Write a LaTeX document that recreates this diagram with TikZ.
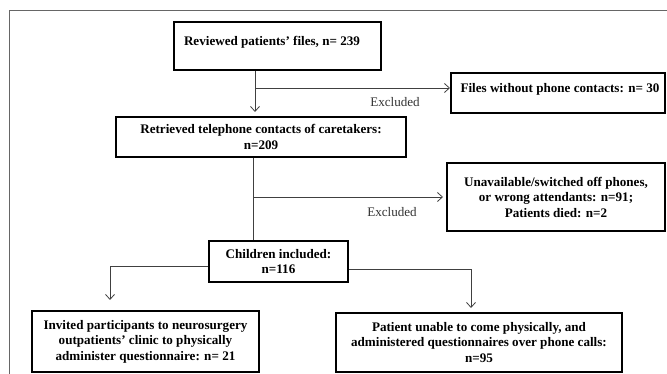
\documentclass[tikz,border=0pt]{standalone}
\usepackage{fontspec}
\setmainfont{Liberation Serif}
\usetikzlibrary{arrows.meta}
\begin{document}
\begin{tikzpicture}[x=1pt,y=-1pt,
  boxfont/.style={font=\fontsize{13.1}{15.5}\selectfont\bfseries},
  box/.style={draw=black,line width=1.8pt,rectangle,inner sep=0pt,align=center,boxfont},
  conn/.style={draw=black!75,line width=0.8pt},
  tip/.style={conn,-{Straight Barb[length=5pt,width=9pt,line width=0.8pt]}},
  lbl/.style={font=\fontsize{13.1}{15}\selectfont,text=black!80,inner sep=0pt}]
\useasboundingbox (0,0) rectangle (667,374);
\draw[black!60,line width=1pt] (9.5,10.5) rectangle (700,400);
% boxes
\node[box,minimum width=207pt,minimum height=48pt] (b1) at (277.5,46) {};
\node[inner sep=0pt,boxfont] (t1) at (272,42) {Reviewed patients’ files, n= 239};
\node[box,minimum width=290pt,minimum height=40pt] (b2) at (261,137) {Retrieved telephone contacts of caretakers:\\n=209};
\node[box,minimum width=214pt,minimum height=40pt] (f) at (558,93) {};
\node[inner sep=0pt,boxfont] (tf) at (560,89.5) {Files without phone contacts: n= 30};
\node[box,minimum width=218pt,minimum height=68pt] (u) at (556,197) {Unavailable/switched off phones,\\or wrong attendants: n=91;\\Patients died: n=2};
\node[box,minimum width=139pt,minimum height=41pt] (b3) at (278.5,261.5) {Children included:\\n=116};
\node[box,minimum width=227pt,minimum height=61pt] (l) at (145.5,341.5) {Invited participants to neurosurgery\\outpatients’ clinic to physically\\administer questionnaire: n= 21};
\node[box,minimum width=286pt,minimum height=59pt] (r) at (479,342.5) {Patient unable to come physically, and\\administered questionnaires over phone calls:\\n=95};
% connectors
\coordinate (a1) at (255,112);
\coordinate (j1) at (255,88);
\coordinate (e1) at (450,88);
\draw[tip] (b1.south -| a1) -- (a1);
\draw[tip] (j1) -- (e1);
\node[lbl] (x1) at (395,102) {Excluded};
\coordinate (j2) at (253,197);
\coordinate (e2) at (443,197);
\draw[conn] (b2.south -| j2) -- (b3.north -| j2);
\draw[tip] (j2) -- (e2);
\node[lbl] (x2) at (392,212) {Excluded};
\coordinate (k1) at (110,266);
\coordinate (k2) at (471,269);
\draw[tip] (b3.west |- k1) -- (k1) -- (110,300);
\draw[tip] (b3.east |- k2) -- (k2) -- (471,308);
\end{tikzpicture}
\end{document}
